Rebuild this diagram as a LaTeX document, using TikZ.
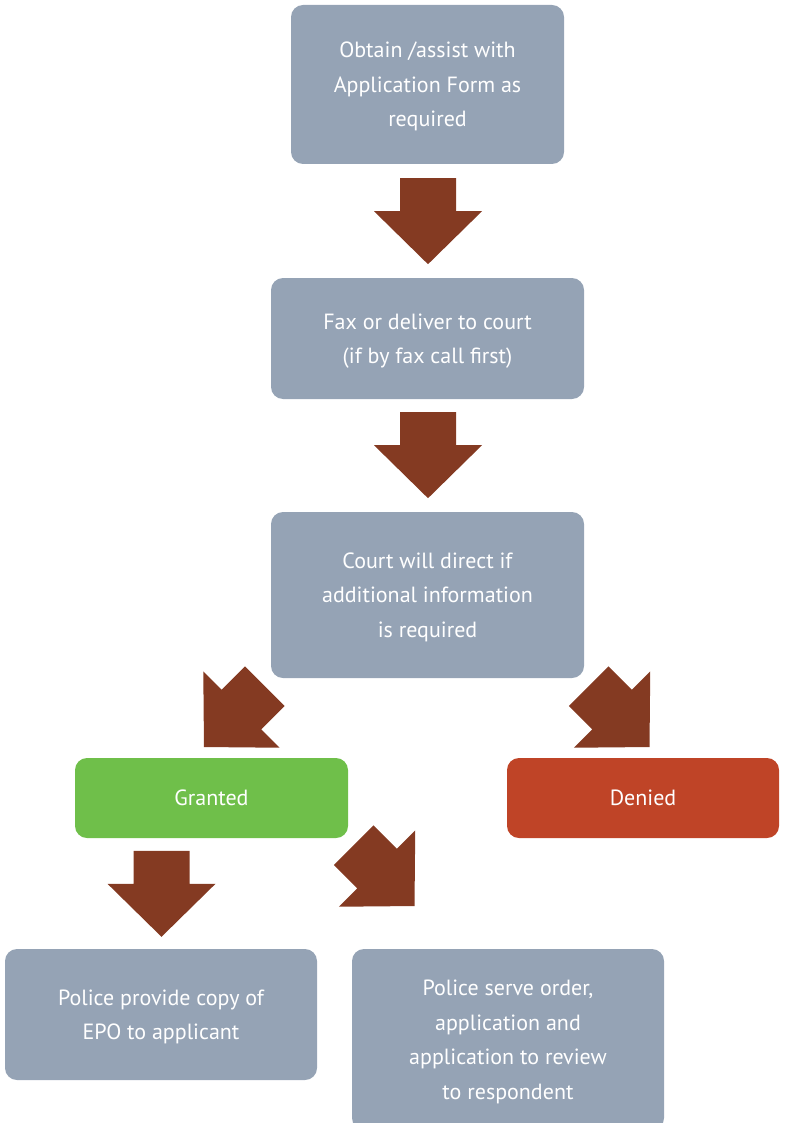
\documentclass[tikz,border=0pt]{standalone}
\usepackage{fontspec}
\setmainfont{PT Sans}
\usetikzlibrary{positioning,calc}
\definecolor{slate}{HTML}{95A3B5}
\definecolor{rust}{HTML}{843A22}
\definecolor{okgreen}{HTML}{6FBF4A}
\definecolor{nored}{HTML}{BF4427}
\tikzset{
  stage/.style={rectangle, rounded corners=12pt, fill=slate, draw=none,
              align=center, text=white, inner sep=4pt, text depth=-4.5pt,
              font=\fontsize{22}{34.5}\selectfont},
  verdict/.style={stage, minimum height=80pt},
  bigarrow/.pic={\fill[rust] (-28,0) -- (-28,33) -- (-54,33) -- (0,86)
                 -- (54,33) -- (28,33) -- (28,0) -- cycle;},
}

\begin{document}
\begin{tikzpicture}[x=1pt,y=-1pt]
\useasboundingbox (0,0) rectangle (784,1123);

% --- application ---------------------------------------------------------
\node[stage, minimum width=273pt, minimum height=159pt] (form) at (427.5,84.5)
  {Obtain /assist with\\Application Form as\\required};
\node[stage, minimum width=313pt, minimum height=121pt] (fax) at (427.5,338.5)
  {Fax or deliver to court\\(if by fax call first)};
\node[stage, minimum width=313pt, minimum height=166pt] (court) at (427.5,595)
  {Court will direct if\\additional information\\is required};
\pic at ($(form.south)+(0.5,14)$) {bigarrow};
\pic at ($(fax.south)+(0.5,13)$) {bigarrow};

% --- outcome -------------------------------------------------------------
\node[verdict, fill=okgreen, minimum width=273pt] (granted) at (211.5,798) {Granted};
\node[verdict, fill=nored, minimum width=272pt] (denied) at (643,798) {Denied};
\pic[rotate=-45] at ($(court.south west)+(-6,8)$) {bigarrow};
\pic[rotate=45] at ($(court.south east)+(4.5,8)$) {bigarrow};

% --- police --------------------------------------------------------------
\node[stage, minimum width=312pt, minimum height=131pt] (copy) at (161,1014.5)
  {Police provide copy of\\EPO to applicant};
\node[stage, minimum width=312pt, minimum height=181pt] (serve) at (508,1039.5)
  {Police serve order,\\application and\\application to review\\to respondent};
\pic at ($(copy.north)+(0.5,-98)$) {bigarrow};
\pic[rotate=45] at ($(granted.south east)+(5.5,7)$) {bigarrow};
\end{tikzpicture}
\end{document}
